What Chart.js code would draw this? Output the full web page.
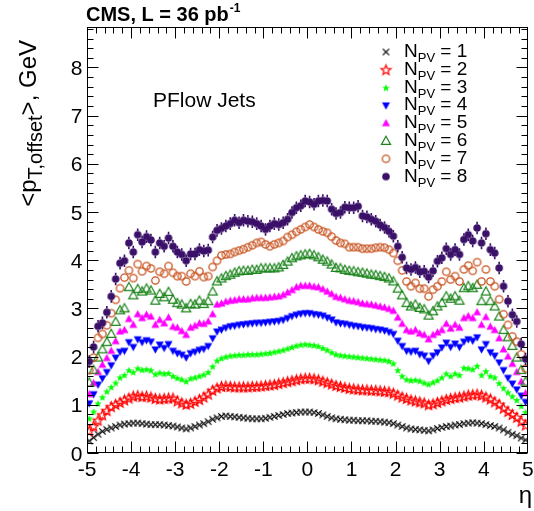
<!DOCTYPE html>
<html>
<head>
<meta charset="utf-8">
<title>PFlow offset vs eta</title>
<script src="https://cdn.jsdelivr.net/npm/chart.js@4.4.1/dist/chart.umd.min.js"></script>
<style>
  body { margin: 0; background: #ffffff; }
  canvas { display: block; }
</style>
</head>
<body>
<canvas id="offset" width="534" height="511"></canvas>
<script>
// eta bin centres (100 bins of 0.1)
var eta = [
  -4.95,-4.85,-4.75,-4.65,-4.55,-4.45,-4.35,-4.25,-4.15,-4.05,
  -3.95,-3.85,-3.75,-3.65,-3.55,-3.45,-3.35,-3.25,-3.15,-3.05,
  -2.95,-2.85,-2.75,-2.65,-2.55,-2.45,-2.35,-2.25,-2.15,-2.05,
  -1.95,-1.85,-1.75,-1.65,-1.55,-1.45,-1.35,-1.25,-1.15,-1.05,
  -0.95,-0.85,-0.75,-0.65,-0.55,-0.45,-0.35,-0.25,-0.15,-0.05,
  0.05,0.15,0.25,0.35,0.45,0.55,0.65,0.75,0.85,0.95,
  1.05,1.15,1.25,1.35,1.45,1.55,1.65,1.75,1.85,1.95,
  2.05,2.15,2.25,2.35,2.45,2.55,2.65,2.75,2.85,2.95,
  3.05,3.15,3.25,3.35,3.45,3.55,3.65,3.75,3.85,3.95,
  4.05,4.15,4.25,4.35,4.45,4.55,4.65,4.75,4.85,4.95
];

// <pT,offset> in GeV, one list per number of primary vertices
var pv1 = [
  0.25,0.32,0.39,0.45,0.49,0.52,0.55,0.58,0.60,0.61,
  0.62,0.62,0.61,0.60,0.59,0.59,0.59,0.58,0.57,0.56,
  0.54,0.52,0.50,0.52,0.55,0.58,0.61,0.65,0.70,0.73,
  0.76,0.77,0.76,0.75,0.74,0.73,0.72,0.71,0.71,0.71,
  0.72,0.74,0.76,0.78,0.80,0.82,0.83,0.84,0.85,0.85,
  0.85,0.84,0.82,0.79,0.76,0.73,0.71,0.70,0.69,0.68,
  0.68,0.67,0.67,0.67,0.66,0.66,0.65,0.64,0.63,0.61,
  0.58,0.55,0.52,0.50,0.49,0.48,0.47,0.46,0.48,0.51,
  0.53,0.55,0.56,0.58,0.59,0.61,0.62,0.63,0.62,0.61,
  0.59,0.57,0.55,0.52,0.48,0.43,0.39,0.36,0.31,0.27
];
var pv2 = [
  0.46,0.56,0.68,0.79,0.88,0.96,1.01,1.05,1.10,1.14,
  1.18,1.19,1.17,1.18,1.16,1.13,1.12,1.13,1.14,1.14,
  1.08,1.04,1.01,1.03,1.07,1.11,1.16,1.22,1.30,1.35,
  1.38,1.39,1.38,1.37,1.37,1.37,1.37,1.38,1.38,1.39,
  1.40,1.41,1.42,1.44,1.46,1.48,1.50,1.52,1.54,1.55,
  1.55,1.54,1.52,1.49,1.46,1.43,1.40,1.38,1.36,1.34,
  1.33,1.32,1.31,1.31,1.30,1.30,1.29,1.28,1.27,1.24,
  1.20,1.16,1.13,1.10,1.08,1.06,1.04,1.00,1.02,1.05,
  1.08,1.11,1.13,1.15,1.16,1.18,1.20,1.21,1.22,1.20,
  1.16,1.12,1.06,1.01,0.93,0.86,0.80,0.74,0.66,0.58
];
var pv3 = [
  0.72,0.86,1.03,1.16,1.28,1.37,1.46,1.57,1.62,1.72,
  1.68,1.76,1.73,1.74,1.72,1.64,1.67,1.65,1.66,1.60,
  1.56,1.53,1.49,1.55,1.57,1.60,1.63,1.68,1.80,1.92,
  1.97,2.00,2.02,2.03,2.04,2.04,2.05,2.05,2.05,2.06,
  2.07,2.08,2.10,2.12,2.14,2.17,2.20,2.23,2.25,2.26,
  2.25,2.24,2.22,2.18,2.14,2.09,2.05,2.03,2.02,2.01,
  2.00,1.99,1.98,1.97,1.96,1.95,1.94,1.93,1.91,1.86,
  1.72,1.60,1.53,1.51,1.52,1.50,1.46,1.43,1.47,1.51,
  1.57,1.65,1.60,1.65,1.62,1.77,1.76,1.74,1.81,1.62,
  1.70,1.60,1.57,1.45,1.35,1.26,1.18,1.10,0.98,0.85
];
var pv4 = [
  1.03,1.22,1.42,1.55,1.68,1.82,1.98,2.10,2.12,2.30,
  2.20,2.36,2.30,2.34,2.31,2.15,2.25,2.18,2.26,2.12,
  2.07,2.04,1.98,2.07,2.10,2.14,2.16,2.22,2.38,2.52,
  2.56,2.60,2.63,2.64,2.66,2.67,2.68,2.69,2.70,2.70,
  2.71,2.72,2.73,2.74,2.76,2.80,2.84,2.87,2.89,2.90,
  2.90,2.88,2.87,2.85,2.81,2.77,2.71,2.69,2.68,2.66,
  2.64,2.63,2.61,2.60,2.59,2.57,2.56,2.54,2.51,2.47,
  2.33,2.22,2.12,2.10,2.12,2.05,2.02,1.91,2.02,2.09,
  2.19,2.29,2.20,2.27,2.20,2.31,2.36,2.33,2.40,2.15,
  2.26,2.09,2.02,1.88,1.72,1.56,1.44,1.32,1.19,1.06
];
var pv5 = [
  1.22,1.45,1.68,1.83,1.97,2.12,2.32,2.52,2.55,2.78,
  2.66,2.88,2.80,2.87,2.83,2.66,2.76,2.69,2.81,2.62,
  2.60,2.53,2.45,2.60,2.64,2.69,2.68,2.73,2.88,3.08,
  3.10,3.14,3.16,3.17,3.19,3.19,3.19,3.21,3.22,3.22,
  3.22,3.23,3.24,3.25,3.28,3.33,3.38,3.44,3.47,3.47,
  3.47,3.45,3.44,3.40,3.35,3.30,3.24,3.22,3.19,3.16,
  3.15,3.13,3.10,3.09,3.08,3.06,3.04,3.02,2.99,2.95,
  2.81,2.68,2.55,2.52,2.55,2.48,2.45,2.36,2.45,2.50,
  2.55,2.68,2.58,2.66,2.60,2.80,2.84,2.80,2.92,2.66,
  2.82,2.62,2.55,2.38,2.15,2.00,1.85,1.68,1.48,1.24
];
var pv6 = [
  1.46,1.72,1.98,2.15,2.30,2.47,2.72,2.96,3.00,3.44,
  3.27,3.40,3.35,3.41,3.37,3.16,3.30,3.23,3.34,3.18,
  3.11,3.08,3.00,3.09,3.08,3.16,3.09,3.15,3.35,3.56,
  3.62,3.67,3.70,3.74,3.77,3.78,3.78,3.80,3.80,3.83,
  3.83,3.83,3.83,3.85,3.90,3.97,4.04,4.08,4.10,4.12,
  4.13,4.10,4.06,4.01,3.97,3.91,3.84,3.83,3.80,3.78,
  3.77,3.75,3.74,3.72,3.70,3.69,3.67,3.65,3.62,3.56,
  3.41,3.27,3.11,3.04,3.08,3.01,2.98,2.85,2.94,3.04,
  3.11,3.25,3.20,3.25,3.16,3.42,3.46,3.42,3.49,3.15,
  3.35,3.15,3.04,2.83,2.55,2.40,2.22,1.98,1.72,1.48
];
var pv7 = [
  1.72,1.98,2.39,2.47,2.65,2.90,3.18,3.42,3.64,3.79,
  3.63,3.92,3.77,3.88,3.83,3.58,3.76,3.72,3.88,3.74,
  3.67,3.67,3.56,3.72,3.67,3.77,3.65,3.67,3.86,3.99,
  4.10,4.12,4.13,4.17,4.20,4.23,4.27,4.31,4.36,4.38,
  4.33,4.29,4.33,4.36,4.40,4.48,4.53,4.59,4.64,4.69,
  4.74,4.69,4.64,4.60,4.57,4.49,4.41,4.36,4.34,4.27,
  4.27,4.27,4.24,4.24,4.24,4.26,4.27,4.26,4.22,4.15,
  3.99,3.79,3.56,3.46,3.53,3.41,3.41,3.25,3.39,3.46,
  3.56,3.76,3.60,3.67,3.56,3.81,3.89,3.78,3.96,3.56,
  3.81,3.56,3.46,3.19,2.88,2.66,2.42,2.31,2.05,1.75
];
var pv8 = [
  1.90,2.20,2.63,2.70,2.92,3.25,3.61,3.94,3.99,4.36,
  4.17,4.53,4.38,4.49,4.42,4.17,4.36,4.29,4.46,4.29,
  4.17,4.12,3.99,4.13,4.13,4.22,4.19,4.21,4.48,4.62,
  4.66,4.71,4.76,4.83,4.78,4.83,4.81,4.80,4.76,4.71,
  4.64,4.71,4.76,4.74,4.78,4.85,4.99,5.09,5.13,5.23,
  5.21,5.16,5.23,5.24,5.23,5.06,4.97,4.99,5.10,5.09,
  5.09,5.12,4.92,4.90,4.85,4.81,4.73,4.68,4.60,4.50,
  4.29,4.06,3.84,3.81,3.85,3.76,3.77,3.65,3.78,3.98,
  4.05,4.24,4.12,4.22,4.12,4.43,4.53,4.40,4.67,4.36,
  4.55,4.22,4.15,3.84,3.46,3.15,2.87,2.73,2.26,1.95
];

var pvNames = ["1", "2", "3", "4", "5", "6", "7", "8"];
// statistical error per series (GeV)
var pvErr = [0.01, 0.015, 0.02, 0.03, 0.04, 0.05, 0.07, 0.13];

var xTickLabels = [-5, -4, -3, -2, -1, 0, 1, 2, 3, 4, 5];
var yTickLabels = [0, 1, 2, 3, 4, 5, 6, 7, 8];

var FONT = '"Liberation Sans", Arial, Helvetica, sans-serif';
var colors = ["#000000", "#ff0000", "#00ff00", "#0000ff", "#ff00ff", "#1b841b", "#c8521e", "#3a1068"];
var kinds = ["cross", "ostar", "fstar", "tdown", "tup", "otri", "ocirc", "fcirc"];
var sizes = [3.2, 5.2, 4.0, 4.2, 4.2, 4.8, 4.3, 3.8];

function makeMarker(kind, color, r) {
  var s = Math.ceil(2 * r + 4);
  var cv = document.createElement("canvas");
  cv.width = s;
  cv.height = s;
  var g = cv.getContext("2d");
  var c = s / 2;
  g.strokeStyle = color;
  g.fillStyle = color;
  g.lineWidth = 1.2;
  g.beginPath();
  if (kind === "cross") {
    g.moveTo(c - r, c - r); g.lineTo(c + r, c + r);
    g.moveTo(c + r, c - r); g.lineTo(c - r, c + r);
    g.stroke();
  } else if (kind === "ostar" || kind === "fstar") {
    for (var k = 0; k < 10; k++) {
      var a = -Math.PI / 2 + k * Math.PI / 5;
      var rr = (k % 2) ? r * 0.42 : r;
      var px = c + rr * Math.cos(a), py = c + 0.5 + rr * Math.sin(a);
      if (k === 0) g.moveTo(px, py); else g.lineTo(px, py);
    }
    g.closePath();
    if (kind === "fstar") g.fill(); else g.stroke();
  } else if (kind === "tup" || kind === "otri") {
    g.moveTo(c, c - r);
    g.lineTo(c + r * 0.95, c + r * 0.7);
    g.lineTo(c - r * 0.95, c + r * 0.7);
    g.closePath();
    if (kind === "tup") g.fill(); else g.stroke();
  } else if (kind === "tdown") {
    g.moveTo(c, c + r);
    g.lineTo(c + r * 0.95, c - r * 0.7);
    g.lineTo(c - r * 0.95, c - r * 0.7);
    g.closePath();
    g.fill();
  } else if (kind === "ocirc") {
    g.lineWidth = 1.3;
    g.arc(c, c, r - 0.6, 0, 2 * Math.PI);
    g.stroke();
  } else {
    g.arc(c, c, r, 0, 2 * Math.PI);
    g.fill();
  }
  return cv;
}

var markers = kinds.map(function (k, i) { return makeMarker(k, colors[i], sizes[i]); });
var series = [pv1, pv2, pv3, pv4, pv5, pv6, pv7, pv8];

var datasets = series.map(function (vals, i) {
  return {
    label: "NPV = " + pvNames[i],
    data: vals.map(function (v, j) { return { x: eta[j], y: v }; }),
    pointStyle: markers[i],
    pointRadius: sizes[i],
    borderColor: colors[i],
    backgroundColor: colors[i],
    order: 7 - i
  };
});

// vertical error bars, gap where the marker sits
var errorBars = {
  id: "errorBars",
  beforeDatasetDraw: function (chart, args) {
    var i = args.index;
    var e = pvErr[i], r = sizes[i];
    var xs = chart.scales.x, ys = chart.scales.y, ctx = chart.ctx;
    ctx.save();
    ctx.strokeStyle = colors[i];
    ctx.lineWidth = 1.6;
    chart.data.datasets[i].data.forEach(function (p) {
      var px = xs.getPixelForValue(p.x), py = ys.getPixelForValue(p.y);
      var hi = ys.getPixelForValue(p.y + e), lo = ys.getPixelForValue(p.y - e);
      if (py - hi <= r) return;
      ctx.beginPath();
      ctx.moveTo(px, hi); ctx.lineTo(px, py - r);
      ctx.moveTo(px, py + r); ctx.lineTo(px, lo);
      ctx.stroke();
    });
    ctx.restore();
  }
};

var whiteBg = {
  id: "whiteBg",
  beforeDraw: function (chart) {
    var ctx = chart.ctx;
    ctx.save();
    ctx.fillStyle = "#ffffff";
    ctx.fillRect(0, 0, chart.width, chart.height);
    ctx.restore();
  }
};

// ROOT style frame, inward ticks on all sides, labels and texts
var rootFrame = {
  id: "rootFrame",
  afterDraw: function (chart) {
    var ctx = chart.ctx, a = chart.chartArea;
    var xs = chart.scales.x, ys = chart.scales.y;
    var L = Math.round(a.left) + 0.5, R = Math.round(a.right) - 0.5;
    var T = Math.round(a.top) + 0.5, B = Math.round(a.bottom) - 0.5;
    ctx.save();
    ctx.strokeStyle = "#000";
    ctx.lineWidth = 1;
    ctx.strokeRect(L, T, R - L, B - T);

    ctx.beginPath();
    var k, v, p, len;
    for (k = 0; k < xTickLabels.length - 1; k++) {
      for (var m = 0; m < 5; m++) {
        v = xTickLabels[k] + m * (xTickLabels[k + 1] - xTickLabels[k]) / 5;
        p = Math.round(xs.getPixelForValue(v)) + 0.5;
        len = m === 0 ? 11 : 6;
        ctx.moveTo(p, B); ctx.lineTo(p, B - len);
        ctx.moveTo(p, T); ctx.lineTo(p, T + len);
      }
    }
    for (k = 0; k < yTickLabels.length; k++) {
      for (m = 0; m < 5; m++) {
        v = yTickLabels[k] + m * 0.2;
        if (v > ys.max) break;
        p = Math.round(ys.getPixelForValue(v)) + 0.5;
        len = m === 0 ? 11 : 6;
        ctx.moveTo(L, p); ctx.lineTo(L + len, p);
        ctx.moveTo(R, p); ctx.lineTo(R - len, p);
      }
    }
    ctx.stroke();

    ctx.fillStyle = "#000";
    ctx.font = "21px " + FONT;
    ctx.textBaseline = "alphabetic";
    ctx.textAlign = "center";
    xTickLabels.forEach(function (t) {
      ctx.fillText(String(t), xs.getPixelForValue(t), 476);
    });
    ctx.textAlign = "right";
    yTickLabels.forEach(function (t) {
      ctx.fillText(String(t), L - 5, ys.getPixelForValue(t) + 7.5);
    });

    // x title
    ctx.font = "24px " + FONT;
    ctx.textAlign = "right";
    ctx.fillText("\u03b7", 532, 503);

    // y title, rotated, aligned to the top end
    ctx.save();
    ctx.translate(36, 40);
    ctx.rotate(-Math.PI / 2);
    ctx.textAlign = "left";
    var big = "24px " + FONT, small = "20px " + FONT;
    ctx.font = big; var w1 = ctx.measureText("<p").width;
    ctx.font = small; var w2 = ctx.measureText("T,offset").width;
    ctx.font = big; var w3 = ctx.measureText(">, GeV").width;
    var x0 = -(w1 + w2 + w3);
    ctx.font = big; ctx.fillText("<p", x0, 0);
    ctx.font = small; ctx.fillText("T,offset", x0 + w1, 6);
    ctx.font = big; ctx.fillText(">, GeV", x0 + w1 + w2, 0);
    ctx.restore();

    // header
    ctx.textAlign = "left";
    ctx.font = "bold 20px " + FONT;
    ctx.fillText("CMS, L = 36 pb", 86, 21);
    var wh = ctx.measureText("CMS, L = 36 pb").width;
    ctx.font = "bold 12px " + FONT;
    ctx.fillText("-1", 86 + wh + 1, 12);

    // label inside the frame
    ctx.font = "21px " + FONT;
    ctx.fillText("PFlow Jets", 153, 107);

    // legend
    for (k = 0; k < pvNames.length; k++) {
      var cy = 52 + k * 17.8;
      var img = markers[k];
      ctx.drawImage(img, 386 - img.width / 2, cy - img.height / 2);
      var tx = 404, base = cy + 5;
      ctx.font = "19px " + FONT;
      ctx.fillText("N", tx, base);
      tx += ctx.measureText("N").width;
      ctx.font = "13px " + FONT;
      ctx.fillText("PV", tx, base + 5);
      tx += ctx.measureText("PV").width;
      ctx.font = "19px " + FONT;
      ctx.fillText(" = " + pvNames[k], tx, base);
    }
    ctx.restore();
  }
};

new Chart(document.getElementById("offset").getContext("2d"), {
  type: "scatter",
  data: { datasets: datasets },
  options: {
    responsive: false,
    animation: false,
    devicePixelRatio: 1,
    events: [],
    layout: { padding: { left: 87, right: 4, top: 27, bottom: 58 } },
    plugins: { legend: { display: false }, tooltip: { enabled: false } },
    scales: {
      x: { type: "linear", min: -5, max: 5, display: false },
      y: { type: "linear", min: 0, max: 8.84, display: false }
    }
  },
  plugins: [whiteBg, errorBars, rootFrame]
});
</script>
</body>
</html>
